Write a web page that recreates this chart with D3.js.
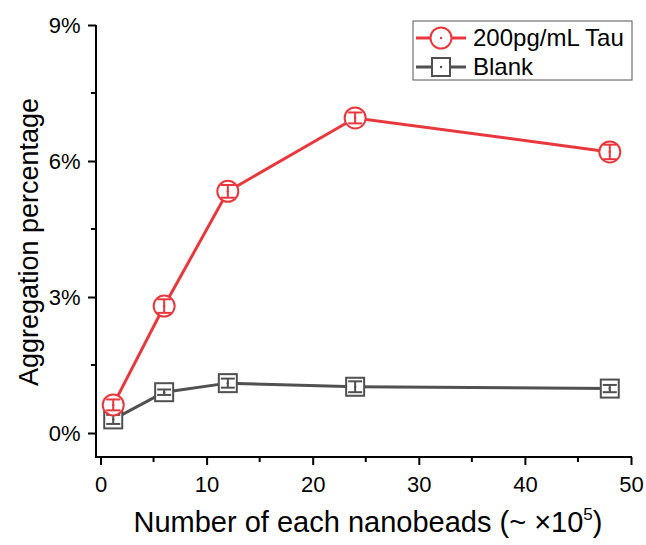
<!DOCTYPE html>
<html>
<head>
<meta charset="utf-8">
<script src="https://cdn.jsdelivr.net/npm/d3@7"></script>
<style>
  body { margin: 0; background: #fff; }
  text { font-family: "Liberation Sans", Arial, sans-serif; }
</style>
</head>
<body>
<svg id="chart" width="646" height="545"></svg>
<script>
// Data
const beads = [1.2, 6, 12, 24, 48];
const tauValues = [0.62, 2.8, 5.33, 6.95, 6.2];
const tauErrors = [0.12, 0.15, 0.14, 0.12, 0.16];
const blankValues = [0.3, 0.9, 1.1, 1.02, 0.98];
const blankErrors = [0.1, 0.06, 0.1, 0.12, 0.08];
const xTicks = [0, 10, 20, 30, 40, 50];
const yTicks = [0, 3, 6, 9];
const seriesNames = ["200pg/mL Tau", "Blank"];

const svg = d3.select("svg#chart");

// Scales
const x = d3.scaleLinear().domain([0, 50]).range([100.5, 631]);
const y = d3.scaleLinear().domain([0, 9]).range([433, 25]);

const axisX0 = 96, axisY0 = 457;

// Axis lines
svg.append("line")
    .attr("x1", axisX0).attr("x2", axisX0)
    .attr("y1", y(9)).attr("y2", axisY0)
    .attr("stroke", "#000").attr("stroke-width", 2);
svg.append("line")
    .attr("x1", axisX0 - 1).attr("x2", x(50) + 1)
    .attr("y1", axisY0).attr("y2", axisY0)
    .attr("stroke", "#000").attr("stroke-width", 2);

// X axis
const xAxis = svg.append("g").attr("transform", "translate(0," + axisY0 + ")");
xAxis.call(d3.axisBottom(x).tickValues(xTicks).tickSize(8).tickSizeOuter(0))
    .call(g => g.select(".domain").remove());
xAxis.selectAll(".tick line").attr("stroke-width", 2);
xAxis.selectAll(".tick text").attr("font-size", 22).attr("dy", "1.1em");
xAxis.selectAll(".minor")
    .data([5, 15, 25, 35, 45])
    .enter().append("line")
    .attr("x1", d => x(d)).attr("x2", d => x(d))
    .attr("y1", 0).attr("y2", 5)
    .attr("stroke", "#000").attr("stroke-width", 2);

// Y axis
const yAxis = svg.append("g").attr("transform", "translate(" + axisX0 + ",0)");
yAxis.call(d3.axisLeft(y).tickValues(yTicks).tickSize(8).tickFormat(d => d + "%"))
    .call(g => g.select(".domain").remove());
yAxis.selectAll(".tick line").attr("stroke-width", 2);
yAxis.selectAll(".tick text").attr("font-size", 22).attr("dx", "-0.2em");
yAxis.selectAll(".minor")
    .data([1.5, 4.5, 7.5])
    .enter().append("line")
    .attr("x1", 0).attr("x2", -5)
    .attr("y1", d => y(d)).attr("y2", d => y(d))
    .attr("stroke", "#000").attr("stroke-width", 2);

// Axis titles
svg.append("text")
    .attr("x", 368).attr("y", 532)
    .attr("text-anchor", "middle")
    .attr("font-size", 29)
    .html('Number of each nanobeads (~ ×10<tspan dy="-12" font-size="17">5</tspan><tspan dy="12">)</tspan>');

svg.append("text")
    .attr("transform", "translate(38,242) rotate(-90)")
    .attr("text-anchor", "middle")
    .attr("font-size", 27)
    .text("Aggregation percentage");

// Series
const series = [
    { name: seriesNames[1], values: blankValues, errors: blankErrors, color: "#505050", shape: "square" },
    { name: seriesNames[0], values: tauValues, errors: tauErrors, color: "#e8383d", shape: "circle" }
];

const line = d3.line().x(d => x(d.x)).y(d => y(d.y));

function drawMarker(g, shape, color, fill) {
    if (shape === "circle") {
        g.append("circle").attr("r", 10.5)
            .attr("fill", fill).attr("stroke", color).attr("stroke-width", 2);
    } else {
        g.append("rect").attr("x", -9).attr("y", -9).attr("width", 18).attr("height", 18)
            .attr("fill", fill).attr("stroke", color).attr("stroke-width", 2);
    }
}

series.forEach(s => {
    const pts = beads.map((b, i) => ({ x: b, y: s.values[i], e: s.errors[i] }));
    svg.append("path")
        .datum(pts)
        .attr("d", line)
        .attr("fill", "none")
        .attr("stroke", s.color)
        .attr("stroke-width", 3);

    const m = svg.selectAll(".m-" + s.shape)
        .data(pts)
        .enter().append("g")
        .attr("class", "m-" + s.shape)
        .attr("transform", d => "translate(" + x(d.x) + "," + y(d.y) + ")");

    m.each(function () { drawMarker(d3.select(this), s.shape, s.color, "#fff"); });

    // error bars
    m.append("line")
        .attr("x1", 0).attr("x2", 0)
        .attr("y1", d => y(d.y + d.e) - y(d.y))
        .attr("y2", d => y(d.y - d.e) - y(d.y))
        .attr("stroke", s.color).attr("stroke-width", 2);
    m.append("line")
        .attr("x1", -7).attr("x2", 7)
        .attr("y1", d => y(d.y + d.e) - y(d.y))
        .attr("y2", d => y(d.y + d.e) - y(d.y))
        .attr("stroke", s.color).attr("stroke-width", 2);
    m.append("line")
        .attr("x1", -7).attr("x2", 7)
        .attr("y1", d => y(d.y - d.e) - y(d.y))
        .attr("y2", d => y(d.y - d.e) - y(d.y))
        .attr("stroke", s.color).attr("stroke-width", 2);
    m.append("circle").attr("r", 1.2).attr("fill", s.color);
});

// Legend
const legend = svg.append("g");
legend.append("rect")
    .attr("x", 413).attr("y", 21).attr("width", 219).attr("height", 59)
    .attr("fill", "#fff").attr("stroke", "#555").attr("stroke-width", 1);

const legendItems = [series[1], series[0]];
legendItems.forEach((s, i) => {
    const ly = 38 + i * 29;
    legend.append("line")
        .attr("x1", 416).attr("x2", 466).attr("y1", ly).attr("y2", ly)
        .attr("stroke", s.color).attr("stroke-width", 3);
    const g = legend.append("g").attr("transform", "translate(441," + ly + ")");
    drawMarker(g, s.shape, s.color, "#fff");
    g.append("circle").attr("r", 1.2).attr("fill", s.color);
    legend.append("text")
        .attr("x", 473).attr("y", ly + 8)
        .attr("font-size", 24)
        .text(s.name);
});
</script>
</body>
</html>
